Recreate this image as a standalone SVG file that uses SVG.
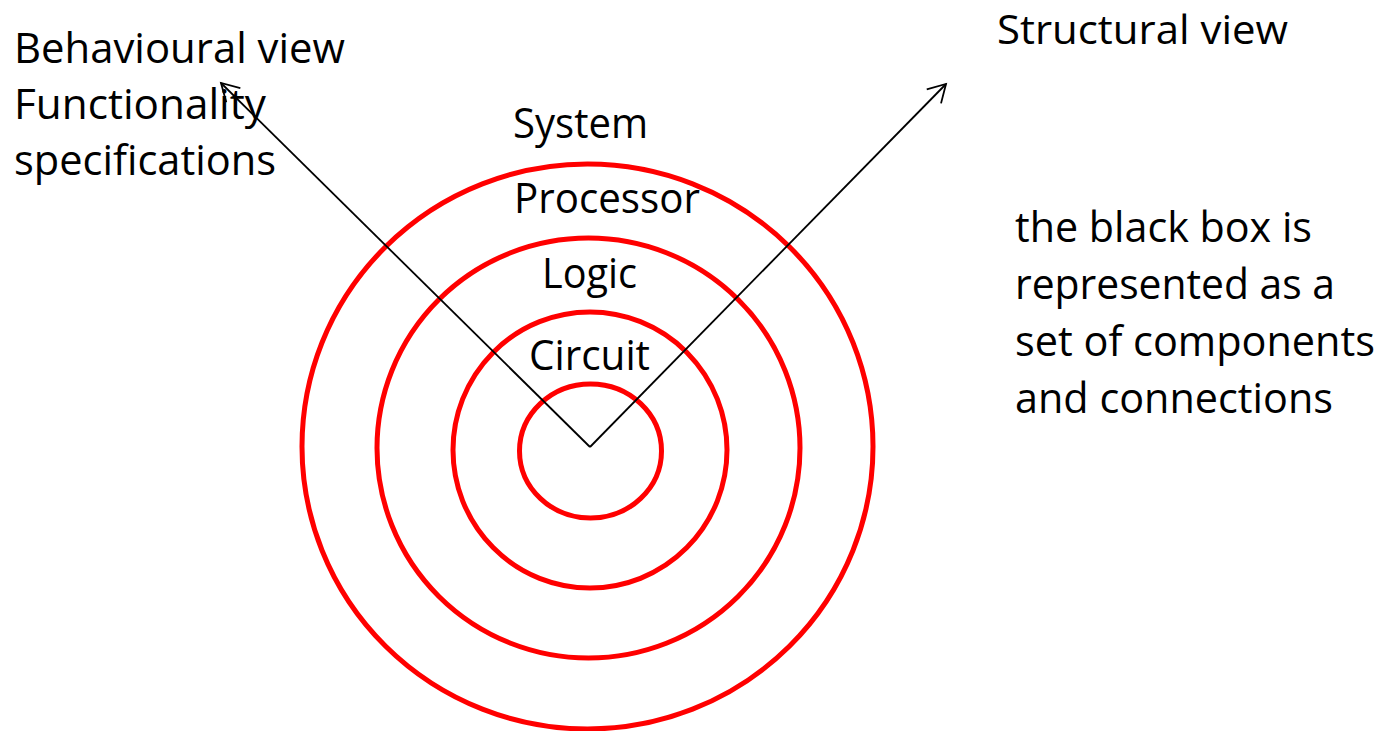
<svg xmlns="http://www.w3.org/2000/svg" width="1383" height="731" viewBox="0 0 1383 731">
<style>
.ring{fill:none;stroke:#ff0000;stroke-width:5}
.t{font-family:"Open Sans","Liberation Sans",sans-serif;font-size:42px;fill:#000}
.conn{stroke:#000;stroke-width:1.8;fill:none}
</style>
<defs>
<marker id="arrow" markerUnits="userSpaceOnUse" viewBox="-20 -12 22 24" refX="0" refY="0" markerWidth="22" markerHeight="24" orient="auto" overflow="visible">
<path d="M-17.3,-10 L0,0 L-17.3,10" fill="none" stroke="#000" stroke-width="1.8"/>
</marker>
</defs>
<rect width="1383" height="731" fill="#fff"/>
<g id="system"><ellipse class="ring" cx="587.5" cy="446.5" rx="285.5" ry="282.5"/><text class="t" x="513" y="138" textLength="135" lengthAdjust="spacingAndGlyphs">System</text></g>
<g id="processor"><ellipse class="ring" cx="588.5" cy="448" rx="211.5" ry="210"/><text class="t" x="514" y="213" textLength="186" lengthAdjust="spacingAndGlyphs">Processor</text></g>
<g id="logic"><ellipse class="ring" cx="590" cy="450" rx="137" ry="138"/><text class="t" x="542" y="288" textLength="95" lengthAdjust="spacingAndGlyphs">Logic</text></g>
<g id="circuit"><ellipse class="ring" cx="590.5" cy="451" rx="71" ry="67"/><text class="t" x="529" y="370" textLength="121" lengthAdjust="spacingAndGlyphs">Circuit</text></g>
<g id="connectors">
<line class="conn" x1="590" y1="447" x2="221" y2="83" marker-end="url(#arrow)"/>
<line class="conn" x1="590" y1="447" x2="946" y2="84" marker-end="url(#arrow)"/>
</g>
<g id="behavioural">
<text class="t" x="14" y="63" textLength="331" lengthAdjust="spacingAndGlyphs">Behavioural view</text>
<text class="t" x="14" y="119" textLength="252" lengthAdjust="spacingAndGlyphs">Functionality</text>
<text class="t" x="14" y="175" textLength="262" lengthAdjust="spacingAndGlyphs">specifications</text>
</g>
<g id="structural">
<text class="t" x="997" y="44" style="font-size:40px" textLength="291" lengthAdjust="spacingAndGlyphs">Structural view</text>
</g>
<g id="note">
<text class="t" x="1015" y="242" textLength="297" lengthAdjust="spacingAndGlyphs">the black box is</text>
<text class="t" x="1015" y="299" textLength="320" lengthAdjust="spacingAndGlyphs">represented as a</text>
<text class="t" x="1015" y="356" textLength="360" lengthAdjust="spacingAndGlyphs">set of components</text>
<text class="t" x="1015" y="413" textLength="318" lengthAdjust="spacingAndGlyphs">and connections</text>
</g>
</svg>
